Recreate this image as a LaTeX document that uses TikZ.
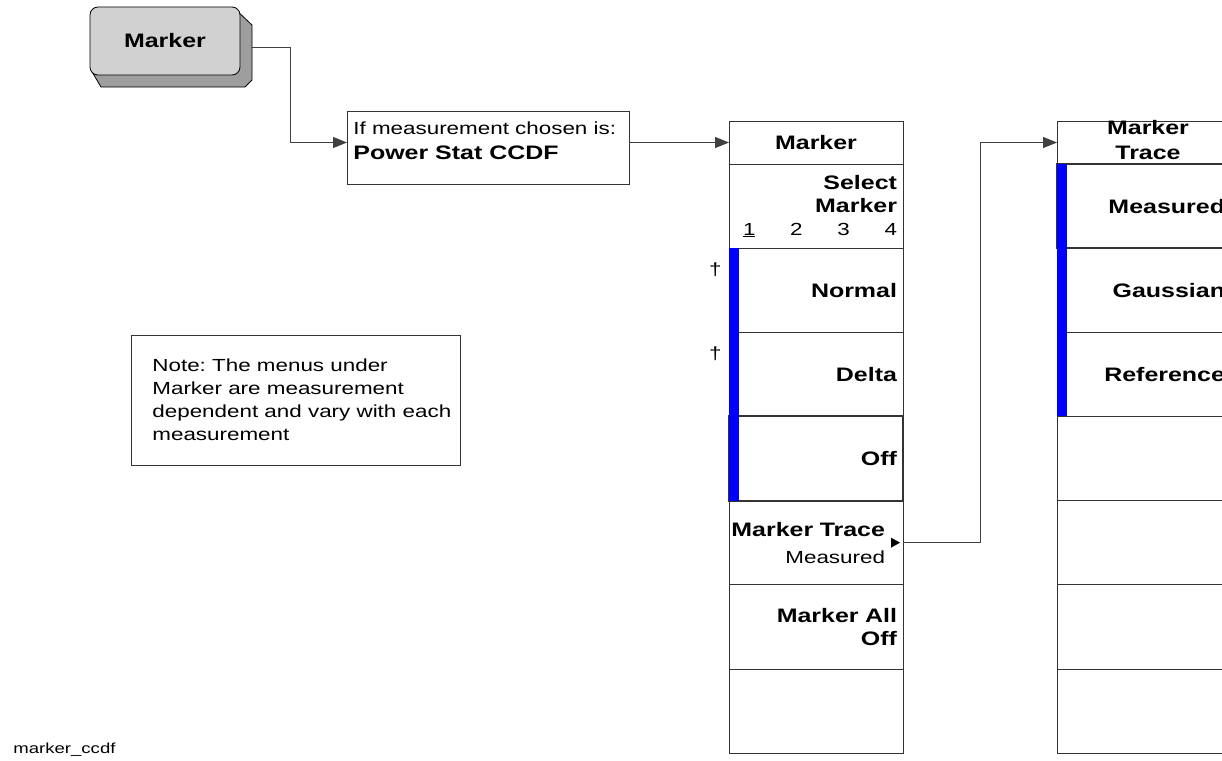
\documentclass[tikz,border=0pt]{standalone}
\usepackage{fontspec}
\setmainfont{Liberation Sans}[FakeStretch=1.28]
\usetikzlibrary{arrows.meta,positioning}
\frenchspacing

\begin{document}
\begin{tikzpicture}[x=1pt,y=-1pt,line width=.8pt,
  bigfont/.style={font=\fontsize{19.5}{23}\selectfont\bfseries},
  smallfont/.style={font=\fontsize{17.5}{23}\selectfont},
  flow/.style={draw=black!75,-{Triangle[length=14pt,width=11pt]}},
  menukey/.style={draw=black!80,minimum width=174pt,minimum height=84.15pt,text width=162pt,
    inner sep=0pt,outer sep=0pt,align=right,bigfont},
  menuhead/.style={draw=black!80,minimum width=174pt,minimum height=43pt,inner sep=0pt,
    outer sep=0pt,align=center,bigfont},
  chosen/.style={line width=2pt},
  hardkey/.style={draw,rounded corners=8pt,fill=black!18,minimum width=150pt,minimum height=68pt,bigfont},
  plainbox/.style={draw=black!80,inner sep=0pt,outer sep=0pt}]
\useasboundingbox (0,0) rectangle (1222,760);
\clip (0,0) rectangle (1222,760);
% front panel key
\fill[black!38,draw=black] (234,8) -- (252,25) -- (252,80) -- (245,87) -- (101,87) -- (91,70) -- cycle;
\node[hardkey] (mkey) at (165,41) {Marker};
\node[plainbox,minimum width=282pt,minimum height=73pt,anchor=north west] (cond) at (347,111) {};
\node[font=\fontsize{17.5}{25}\selectfont,align=left,inner sep=0pt,anchor=north west] (condtxt)
  at ([shift={(6pt,-10pt)}]cond.north west) {If measurement chosen is:\\{\fontsize{19.5}{25}\selectfont\bfseries Power Stat CCDF}};
\node[plainbox,minimum width=329pt,minimum height=130pt,anchor=north west] (note) at (131,335) {};
\node[smallfont,align=left,inner sep=0pt,anchor=west] (notetxt) at ([xshift=21pt]note.west)
  {Note: The menus under\\Marker are measurement\\dependent and vary with each\\measurement};
% Marker menu
\node[menuhead,anchor=north west] (mkhead) at (729,121) {Marker};
\node[menukey,below=0pt of mkhead] (selmk) {Select\\Marker\\\makebox[162pt]{\fontsize{17.5}{23}\selectfont\mdseries\hspace{8pt}\underline{1}\hfill2\hfill3\hfill4}};
\node[menukey,below=0pt of selmk] (normal) {Normal};
\node[menukey,below=0pt of normal] (delta) {Delta};
\node[menukey,chosen,below=0pt of delta] (off) {Off};
\node[menukey,below=0pt of off] (mtrace) {\makebox[162pt][r]{Marker Trace\hspace{12pt}}\\[4pt]\makebox[162pt][r]{\fontsize{17.5}{23}\selectfont\mdseries Measured\hspace{12pt}}};
\node[menukey,below=0pt of mtrace] (allof) {Marker All\\Off};
\node[menukey,below=0pt of allof] (mkempty) {};
\fill[blue] (normal.north west) rectangle ([xshift=10pt]off.south west);
\node[smallfont,inner sep=0pt,anchor=north east] (dag1) at ([shift={(-7pt,-14pt)}]normal.north west) {†};
\node[smallfont,inner sep=0pt,anchor=north east] (dag2) at ([shift={(-7pt,-14pt)}]delta.north west) {†};
\fill ([xshift=-3pt]mtrace.east) -- ++(-9pt,5pt) -- ++(0pt,-10pt) -- cycle;
% Marker Trace menu
\node[menuhead,anchor=north west] (trhead) at (1057,121) {};
\node[bigfont,align=center,inner sep=0pt] (trtitle) at ([shift={(4pt,2pt)}]trhead.center) {Marker\\[2pt]Trace};
\node[menukey,chosen,below=0pt of trhead] (meas) {Measured};
\node[menukey,below=0pt of meas] (gauss) {Gaussian};
\node[menukey,below=0pt of gauss] (refer) {Reference};
\node[menukey,below=0pt of refer] (trk4) {};
\node[menukey,below=0pt of trk4] (trk5) {};
\node[menukey,below=0pt of trk5] (trk6) {};
\node[menukey,below=0pt of trk6] (trk7) {};
\fill[blue] (meas.north west) rectangle ([xshift=10pt]refer.south west);
% connectors
\draw[flow] ([shift={(12pt,-6pt)}]mkey.east) -- ++(38pt,0pt) |- (cond.west |- mkhead.west);
\draw[flow] (cond.east |- mkhead.west) -- (mkhead.west);
\draw[flow] (mtrace.east) -- ++(77pt,0pt) |- (trhead.west);
\node[font=\fontsize{14.5}{17}\selectfont,anchor=west,inner sep=0pt] (figname) at (13,750) {marker\_ccdf};
\end{tikzpicture}
\end{document}
